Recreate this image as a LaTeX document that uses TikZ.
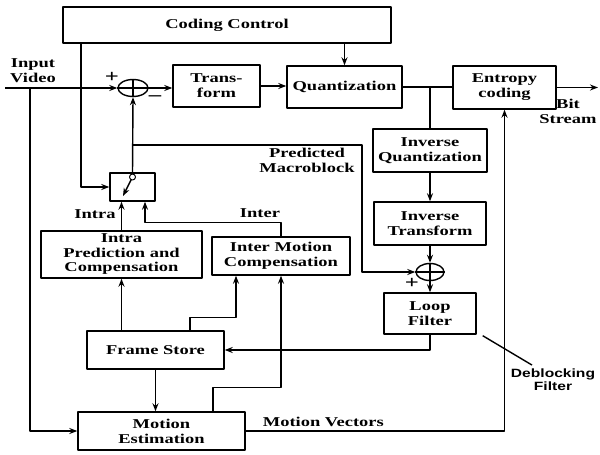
\documentclass[tikz,border=0pt]{standalone}
\usepackage{fontspec}
\setmainfont{Liberation Serif}[FakeStretch=1.37]
\newfontfamily\dbfont{Liberation Sans}[FakeStretch=1.3]
\usetikzlibrary{arrows.meta,shapes.geometric}
\begin{document}
\begin{tikzpicture}[x=1pt, y=-1pt, line width=1.4pt, line join=round,
		>={Stealth[length=8pt,width=6pt]},
		font=\fontsize{13.5}{15}\selectfont\bfseries,
		blk/.style={draw, fill=white, align=center, inner sep=0pt},
		sumj/.style={draw, ellipse, minimum width=30pt, minimum height=17pt, inner sep=0pt},
		sgn/.style={font=\fontsize{18}{18}\selectfont\bfseries, inner sep=0pt}]
	\useasboundingbox (0,0) rectangle (600,455);
	% blocks
	\node[blk, minimum width=328pt, minimum height=36pt] (ctrl) at (227,25) {Coding Control};
	\node[blk, minimum width=87pt, minimum height=42pt] (tr) at (216.5,86) {Trans-\\form};
	\node[blk, minimum width=115pt, minimum height=42pt] (quant) at (344.5,87) {Quantization};
	\node[blk, minimum width=103pt, minimum height=43pt] (ent) at (504.5,87.5) {Entropy\\coding};
	\node[blk, minimum width=114pt, minimum height=43pt] (iq) at (430,150.5) {Inverse\\Quantization};
	\node[blk, minimum width=112pt, minimum height=43pt] (it) at (430,223.5) {Inverse\\Transform};
	\node[blk, minimum width=92pt, minimum height=41pt] (lf) at (430,313.5) {Loop\\Filter};
	\node[blk, minimum width=45pt, minimum height=28pt] (sw) at (132.5,187) {};
	\node[blk, minimum width=161pt, minimum height=47pt, font=\fontsize{13.5}{14.5}\selectfont\bfseries] (intra) at (121.5,254.5) {Intra\\Prediction and\\Compensation};
	\node[blk, minimum width=138pt, minimum height=38pt] (inter) at (281,256) {Inter Motion\\Compensation};
	\node[blk, minimum width=137pt, minimum height=38pt] (fs) at (155.5,350) {Frame Store};
	\node[blk, minimum width=167pt, minimum height=38pt] (me) at (161.5,431) {Motion\\Estimation};
	% summing points
	\node[sumj] (s1) at (133,88) {};
	\node[sumj, minimum width=28pt] (s2) at (430,272) {};
	\draw (s1.north)--(s1.south) (s1.west)--(s1.east);
	\draw (s2.north)--(s2.south) (s2.west)--(s2.east);
	\coordinate (vin) at (5,88);
	\coordinate (vtap) at (30,88);
	\coordinate (bs) at (598,87.5);
	\coordinate (qtap) at (430,87);
	\coordinate (pm) at (133,145);
	\coordinate (pmr) at (362,145);
	\coordinate (pole) at (132.5,177);
	\coordinate (arm) at (123,196);
	% forward path
	\draw[->] (vin) -- (s1.west);
	\draw[->] (vtap) |- (me.west);
	\draw[->] (s1.east) -- (s1.east -| tr.west);
	\draw[->] (tr.east) -- (tr.east -| quant.west);
	\draw (quant.east) -- (quant.east -| ent.west);
	\draw[->] (ent.east) -- (bs);
	\draw[->] (ctrl.south -| quant.north) -- (quant.north);
	\draw[->] ([xshift=-146pt]ctrl.south) |- (sw.west);
	% reconstruction loop
	\draw (qtap) -- (iq.north);
	\draw[->] (iq.south) -- (it.north);
	\draw[->] (it.south) -- (s2.north);
	\draw[->] (s2.south) -- (lf.north);
	\draw[->] (lf.south) |- (fs.east);
	% switch
	\draw[line width=1pt] (pole) circle (3pt);
	\draw[->] ([yshift=3pt]pole) -- (s1.south);
	\draw[->, shorten <=3pt] (pole) -- (arm);
	\draw[->] (pm) -- (pmr) |- (s2.west);
	\draw[->] (intra.north) -- (intra.north |- sw.south);
	\draw[->] (inter.north) -- ++(0,-14) -| ([xshift=12.5pt]sw.south);
	% prediction inputs
	\draw[->] (fs.north -| intra.south) -- (intra.south);
	\draw[->] ([xshift=34.5pt]fs.north) -- ++(0,-13) -| ([xshift=-45pt]inter.south);
	\draw[->] ([xshift=51.5pt]me.north) -- ++(0,-24) -| (inter.south);
	\draw[->] (fs.south) -- (fs.south |- me.north);
	\draw[->] (me.east) -| (ent.south) node[pos=0.15, above] {Motion Vectors};
	% labels
	\node[align=center] (invid) at (33,71) {Input\\Video};
	\node[sgn] (p1) at (112,77) {+};
	\node[sgn] (m1) at (155,98) {--};
	\node[sgn] (p2) at (412,283) {+};
	\node (intrl) at (95,214) {Intra};
	\node (interl) at (260,213) {Inter};
	\node[align=center] (pml) at (307,160) {Predicted\\Macroblock};
	\node[align=center] (bsl) at (568,111) {Bit\\Stream};
	\node[align=center, font=\dbfont\fontsize{12}{13}\selectfont\bfseries] (dbf) at (553,380) {Deblocking\\Filter};
	\draw ([shift={(6,1)}]lf.south east) -- ([xshift=-21pt]dbf.north);
\end{tikzpicture}
\end{document}
